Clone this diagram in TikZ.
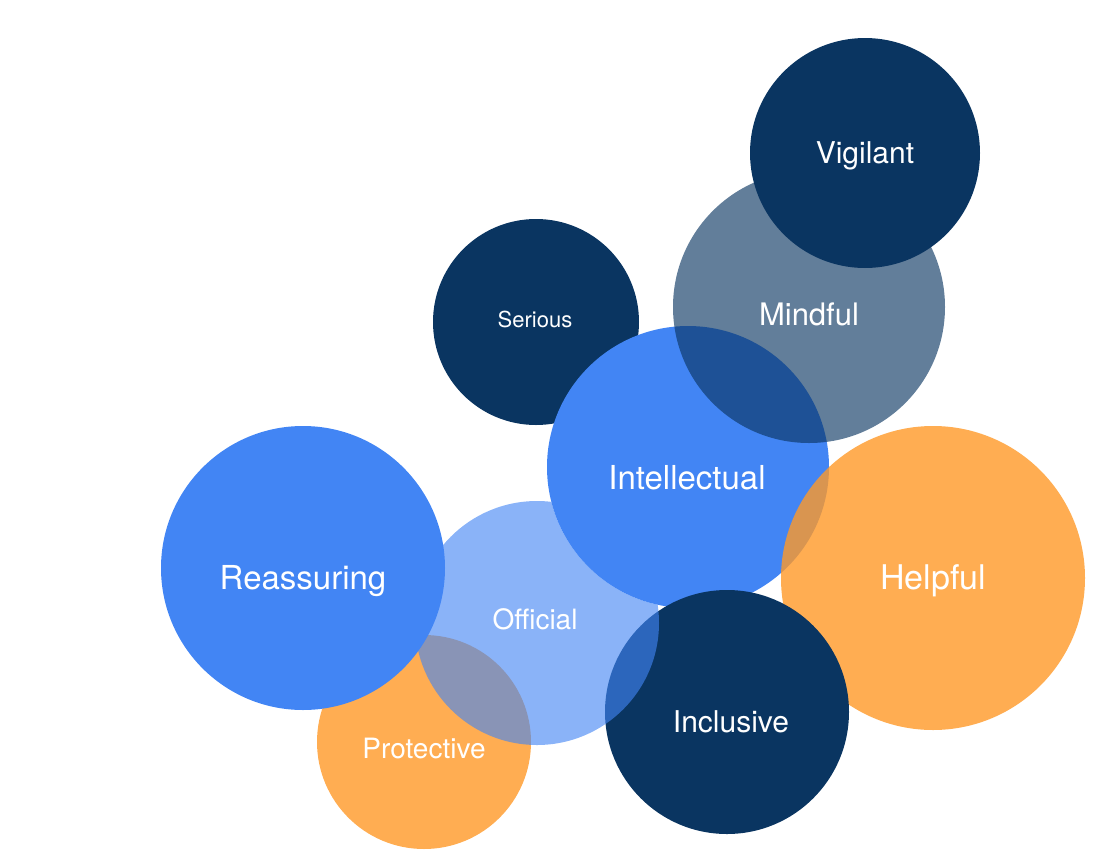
\documentclass[tikz,border=0pt]{standalone}
\usepackage{fontspec}
\setmainfont{TeX Gyre Heros}
\usepackage{xcolor}
\usepackage{tikz}
\definecolor{bubblenavy}{HTML}{0A3561}
\definecolor{bubbleblue}{HTML}{4285F4}
\definecolor{bubbleorange}{HTML}{FFAD52}
\definecolor{bubbleamber}{RGB}{255,153,39}

\begin{document}
\begin{tikzpicture}[x=1pt, y=-1pt,
    bubble/.style={circle, inner sep=0pt, minimum size=#1},
    word/.style={text=white, anchor=base, font=\fontsize{#1}{#1}\selectfont, inner sep=0pt}]
    \useasboundingbox (0,0) rectangle (1112,868);
    % back row
    \node[bubble=206pt, fill=bubblenavy] (serious) at (536,322) {};
    \node[bubble=282pt, fill=bubbleblue] (intellectual) at (688,467) {};
    \node[bubble=304pt, fill=bubbleamber, fill opacity=0.8] (helpful) at (933,578) {};
    \node[bubble=244pt, fill=bubblenavy] (inclusive) at (727,712) {};
    \node[bubble=214pt, fill=bubbleorange] (protective) at (424,742) {};
    % official sits behind intellectual
    \begin{scope}[even odd rule]
        \clip (0,0) rectangle (1112,868) (intellectual.center) circle[radius=141];
        \node[bubble=244pt, fill=bubbleblue, fill opacity=0.62] (official) at (537,623) {};
    \end{scope}
    \node[bubble=284pt, fill=bubbleblue] (reassuring) at (303,568) {};
    \node[bubble=272pt, fill=bubblenavy, fill opacity=0.64] (mindful) at (809,307) {};
    \node[bubble=230pt, fill=bubblenavy] (vigilant) at (865,153) {};
    % labels
    \node[word=30] (t-vigilant) at (865,163) {Vigilant};
    \node[word=31] (t-mindful) at (809,325) {Mindful};
    \node[word=22] (t-serious) at (535,327) {Serious};
    \node[word=33] (t-intellectual) at (687,489) {Intellectual};
    \node[word=34] (t-helpful) at (933,589) {Helpful};
    \node[word=33] (t-reassuring) at (303,589) {Reassuring};
    \node[word=28] (t-official) at (535,629) {Official};
    \node[word=28] (t-protective) at (424,758) {Protective};
    \node[word=30] (t-inclusive) at (731,732) {Inclusive};
\end{tikzpicture}
\end{document}
